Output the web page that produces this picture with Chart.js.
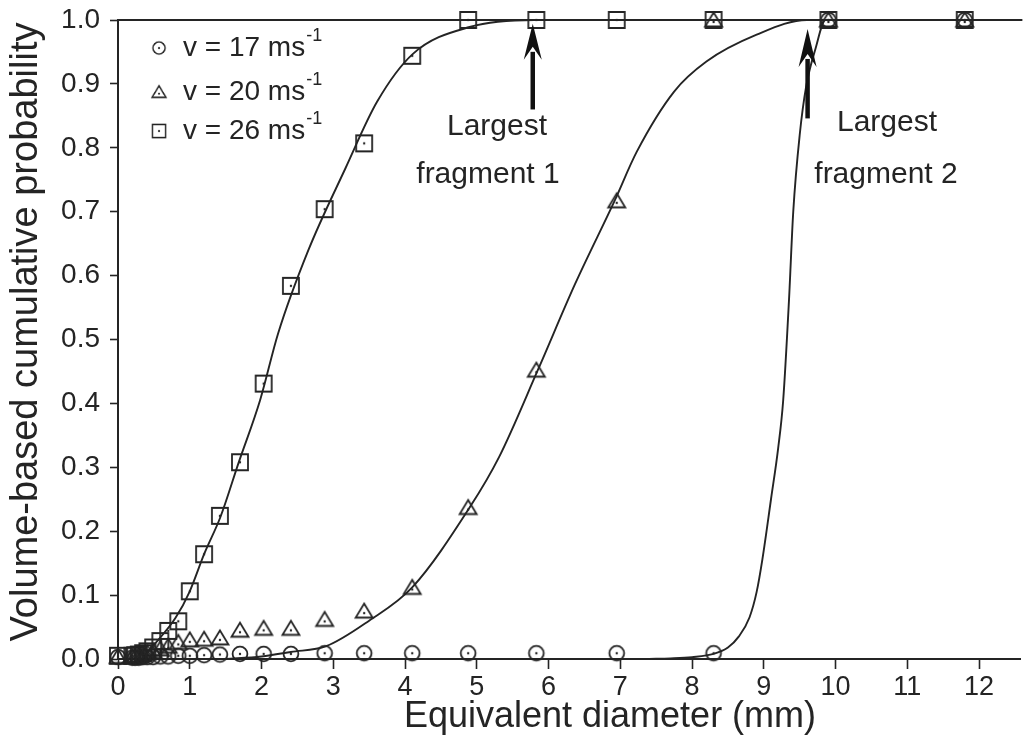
<!DOCTYPE html>
<html><head><meta charset="utf-8">
<script src="https://cdn.jsdelivr.net/npm/chart.js@4.4.1/dist/chart.umd.min.js"></script>
<style>html,body{margin:0;padding:0;background:#fff;}#wrap{width:1029px;height:753px;}</style>
</head><body><div id="wrap"><canvas id="c" width="1029" height="753"></canvas></div>
<script>
// ---- data ----
const diameters = [0, 0.2, 0.24, 0.29, 0.35, 0.41, 0.49, 0.59, 0.70, 0.84, 1.0, 1.2, 1.42, 1.70, 2.03, 2.41, 2.88, 3.43, 4.1, 4.88, 5.83, 6.95, 8.3, 9.9, 11.8];
const prob17 = [0.003, 0.002, 0.002, 0.002, 0.003, 0.003, 0.003, 0.004, 0.004, 0.005, 0.005, 0.006, 0.007, 0.008, 0.008, 0.008, 0.009, 0.009, 0.009, 0.009, 0.009, 0.009, 0.009, 1.0, 1.0];
const prob20 = [0.004, 0.004, 0.005, 0.006, 0.008, 0.010, 0.012, 0.016, 0.020, 0.026, 0.030, 0.031, 0.033, 0.045, 0.048, 0.048, 0.062, 0.075, 0.112, 0.237, 0.452, 0.717, 1.0, 1.0, 1.0];
const prob26 = [0.005, 0.005, 0.006, 0.007, 0.009, 0.012, 0.018, 0.028, 0.044, 0.059, 0.106, 0.164, 0.224, 0.308, 0.431, 0.584, 0.704, 0.807, 0.944, 1.0, 1.0, 1.0, 1.0, 1.0, 1.0];

// fitted curves
const fit26X = [0.35, 0.5, 0.8, 1.0, 1.2, 1.43, 1.68, 1.98, 2.23, 2.65, 3.17, 3.61, 4.11, 4.9, 5.8, 12.6];
const fit26Y = [0.003, 0.022, 0.064, 0.106, 0.164, 0.223, 0.307, 0.405, 0.509, 0.639, 0.768, 0.872, 0.947, 0.989, 1.0, 1.0];
const fit20X = [1.5, 2.0, 2.41, 2.9, 3.5, 4.1, 4.9, 5.31, 5.85, 6.37, 6.92, 7.23, 7.75, 8.2, 8.9, 9.6, 12.6];
const fit20Y = [0.0, 0.004, 0.011, 0.02, 0.06, 0.112, 0.237, 0.316, 0.452, 0.587, 0.717, 0.794, 0.888, 0.935, 0.977, 1.0, 1.0];
const fit17X = [7.4, 7.7, 8.0, 8.3, 8.5, 8.65, 8.8, 8.9, 8.98, 9.1, 9.2, 9.27, 9.35, 9.41, 9.5, 9.59, 9.72, 9.86, 12.6];
const fit17Y = [0.0, 0.001, 0.003, 0.008, 0.018, 0.035, 0.065, 0.105, 0.156, 0.25, 0.33, 0.405, 0.56, 0.70, 0.82, 0.896, 0.955, 1.0, 1.0];

const seriesNames = ['v = 17 ms', 'v = 20 ms', 'v = 26 ms'];
const unitSup = '-1';
const xTicks = [0, 1, 2, 3, 4, 5, 6, 7, 8, 9, 10, 11, 12];
const yTicks = [0, 0.1, 0.2, 0.3, 0.4, 0.5, 0.6, 0.7, 0.8, 0.9, 1.0];
const xTitle = 'Equivalent diameter (mm)';
const yTitle = 'Volume-based cumulative probability';
const arrowX = [5.78, 9.61];
const arrowNotes = [['Largest', 'fragment 1'], ['Largest', 'fragment 2']];

// ---- styling ----
const INK = '#242424';
const FONT = '"Liberation Sans", Arial, Helvetica, sans-serif';

function makeMarker(type) {
  const s = 22, c = document.createElement('canvas');
  c.width = s; c.height = s;
  const g = c.getContext('2d');
  g.strokeStyle = INK; g.fillStyle = INK; g.lineWidth = 1.8;
  let dy = 11;
  g.beginPath();
  if (type === 'circle') { g.arc(11, 11, 7.4, 0, Math.PI * 2); }
  else if (type === 'square') { g.rect(3, 3, 16, 16); }
  else { g.moveTo(11, 3.5); g.lineTo(19.5, 17.5); g.lineTo(2.5, 17.5); g.closePath(); dy = 13; }
  g.stroke();
  g.beginPath(); g.arc(11, dy, 1.2, 0, Math.PI * 2); g.fill();
  return c;
}
const markers = [makeMarker('circle'), makeMarker('triangle'), makeMarker('square')];

const pts = (xs, ys) => xs.map((x, i) => ({x: x, y: ys[i]}));

function pointSet(label, ys, img) {
  return { type: 'scatter', label: label, data: pts(diameters, ys), pointStyle: img,
    pointRadius: 8, showLine: false, clip: false, order: 1 };
}
function fitSet(xs, ys) {
  return { type: 'line', data: pts(xs, ys), borderColor: INK, borderWidth: 1.9,
    pointRadius: 0, fill: false, cubicInterpolationMode: 'monotone', order: 2, clip: false };
}

const overlay = {
  id: 'overlay',
  afterDraw(chart) {
    const {ctx, chartArea: a, scales: {x, y}} = chart;
    ctx.save();
    // top frame line
    ctx.strokeStyle = INK; ctx.lineWidth = 2;
    ctx.beginPath(); ctx.moveTo(a.left, a.top); ctx.lineTo(a.right, a.top); ctx.stroke();
    // axis titles
    ctx.fillStyle = INK; ctx.textAlign = 'center'; ctx.textBaseline = 'middle';
    ctx.font = '36px ' + FONT;
    ctx.fillText(xTitle, 610, 717);
    ctx.save(); ctx.translate(27, 332); ctx.rotate(-Math.PI / 2);
    ctx.font = '38px ' + FONT; ctx.fillText(yTitle, 0, 0); ctx.restore();
    // arrows
    const arrowGeo = [{base: 0.86, tip: 0.994, head: 36}, {base: 0.846, tip: 0.986, head: 38}];
    arrowX.forEach((v, i) => {
      const px = x.getPixelForValue(v);
      const yb = y.getPixelForValue(arrowGeo[i].base), yt = y.getPixelForValue(arrowGeo[i].tip);
      const hb = yt + arrowGeo[i].head;
      ctx.strokeStyle = '#111'; ctx.lineWidth = 4.5; ctx.lineCap = 'butt';
      ctx.beginPath(); ctx.moveTo(px, yb); ctx.lineTo(px, hb - 8); ctx.stroke();
      ctx.fillStyle = '#111';
      ctx.beginPath(); ctx.moveTo(px, yt); ctx.lineTo(px + 9, hb); ctx.lineTo(px, hb - 13);
      ctx.lineTo(px - 9, hb); ctx.closePath(); ctx.fill();
    });
    // notes
    ctx.fillStyle = INK; ctx.font = '30px ' + FONT; ctx.textAlign = 'center'; ctx.textBaseline = 'middle';
    const notePos = [[[497, 127], [488, 175]], [[887, 123], [886, 175]]];
    arrowNotes.forEach((lines, i) => lines.forEach((t, j) => ctx.fillText(t, notePos[i][j][0], notePos[i][j][1])));
    // legend
    const rows = [48, 92, 131];
    ctx.textAlign = 'left';
    seriesNames.forEach((name, i) => {
      ctx.drawImage(markers[i], 159 - 9, rows[i] - 9, 18, 18);
      ctx.font = '28px ' + FONT; ctx.textBaseline = 'middle';
      ctx.fillText(name, 183, rows[i]);
      const w = ctx.measureText(name).width;
      ctx.font = '18px ' + FONT;
      ctx.fillText(unitSup, 183 + w + 1, rows[i] - 12);
    });
    ctx.restore();
  }
};

new Chart(document.getElementById('c'), {
  data: {
    datasets: [
      pointSet(seriesNames[0], prob17, markers[0]),
      pointSet(seriesNames[1], prob20, markers[1]),
      pointSet(seriesNames[2], prob26, markers[2]),
      fitSet(fit26X, fit26Y), fitSet(fit20X, fit20Y), fitSet(fit17X, fit17Y)
    ]
  },
  options: {
    responsive: false, animation: false, devicePixelRatio: 1,
    layout: { padding: { top: 20, right: 0, left: 0, bottom: 0 } },
    plugins: { legend: { display: false }, tooltip: { enabled: false } },
    scales: {
      x: {
        type: 'linear', min: 0, max: 12.57,
        afterBuildTicks: s => { s.ticks = xTicks.map(v => ({value: v})); },
        afterFit: s => { s.height = 94; s.paddingLeft = 0; s.paddingRight = 0; },
        border: { display: true, color: INK, width: 2 },
        grid: { drawOnChartArea: false, drawTicks: true, tickLength: 10, tickColor: INK, tickWidth: 1.6 },
        ticks: { autoSkip: false, maxRotation: 0, padding: 2, color: INK, font: { family: FONT, size: 27 } },
        title: { display: false }
      },
      y: {
        type: 'linear', min: 0, max: 1.0,
        afterBuildTicks: s => { s.ticks = yTicks.map(v => ({value: v})); },
        afterFit: s => { s.width = 118; s.paddingTop = 0; s.paddingBottom = 0; },
        border: { display: true, color: INK, width: 2 },
        grid: { drawOnChartArea: false, drawTicks: true, tickLength: 8, tickColor: INK, tickWidth: 1.6 },
        ticks: { padding: 10, color: INK, font: { family: FONT, size: 28 }, callback: v => v.toFixed(1) },
        title: { display: false }
      }
    }
  },
  plugins: [overlay]
});
</script></body></html>
